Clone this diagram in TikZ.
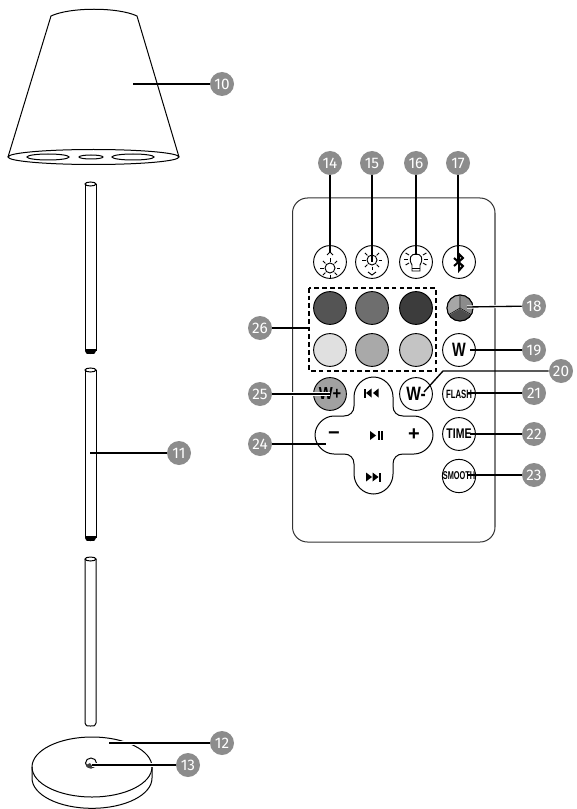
\documentclass[tikz,border=0pt]{standalone}
\usepackage{fontspec}
\setmainfont{Liberation Sans}
\newfontfamily\badgefont{Fira Sans}
\definecolor{badgegray}{RGB}{140,140,140}
\definecolor{edgegray}{RGB}{125,125,125}
\tikzset{
  badge/.style={circle, fill=badgegray, text=white, minimum size=18pt, inner sep=0pt, font=\badgefont\fontsize{11.5}{12}\selectfont},
  leader/.style={black, line width=1pt},
  halo/.style={preaction={draw=white, line width=2.4pt}},
  btn/.style={circle, draw=black, line width=0.7pt, fill=white, minimum size=24.6pt, inner sep=0pt, font=\bfseries},
  outl/.style={black, line width=0.75pt},
  icon/.style={black, line width=0.7pt},
  glyph/.style={inner sep=0pt, font=\bfseries\fontsize{15}{15}\selectfont}
}
\begin{document}
\begin{tikzpicture}[x=0.75pt, y=-0.75pt]
  \useasboundingbox (0,0) rectangle (576,809);
  % lamp shade
  \draw[outl, line join=round] (8,157) -- (51,16) .. controls (70,7) and (118,7) .. (137,16) -- (179,157);
  \draw[outl] (93.5,157) ellipse [x radius=85.5, y radius=7.5];
  \foreach \x/\r/\s in {48/21/3, 91/12/2, 133/21/3}
    \draw[outl] (\x,157) ellipse [x radius=\r, y radius=\s];
  % tubes
  \foreach \t/\b in {184/354, 370/541} {
    \fill[black] (85,\b-5) -- (96,\b-5) -- (96,\b-3) .. controls (96,\b) and (94,\b) .. (90.5,\b) .. controls (87,\b) and (85,\b) .. (85,\b-3) -- cycle;
    \draw[outl] (85,\t) -- (85,\b-3);
    \draw[outl] (96,\t) -- (96,\b-3);
    \draw[outl] (90.5,\t) ellipse [x radius=5.5, y radius=2];
  }
  \draw[outl] (85,559) -- (85,723) .. controls (85,726) and (87,726) .. (90.5,726) .. controls (94,726) and (96,726) .. (96,723) -- (96,559);
  \draw[outl] (90.5,559) ellipse [x radius=5.5, y radius=2];
  % base
  \draw[outl] (92,767) ellipse [x radius=60, y radius=30];
  \draw[outl] (32,767) -- (32,778) .. controls (32,795) and (59,808.3) .. (92,808.3) .. controls (125,808.3) and (152,795) .. (152,778) -- (152,767);
  \draw[outl] (91,763) ellipse [x radius=5.5, y radius=5];
  \fill[black!75] (86,765) .. controls (87,769) and (92,769) .. (93,767) -- (90,763) -- cycle;
  % remote
  \draw[black!80, line width=0.75pt, rounded corners=11.25pt] (292.5,198) rectangle (495,542);
  \draw[edgegray, line width=1pt] (495,213) -- (495,527);
  \draw[black, line width=1.1pt, dash pattern=on 3.5pt off 2.3pt] (309,288) rectangle (436,371);
  % colour buttons
  \foreach \n/\x/\y/\c in {a/330/308/84, b/372/308/110, c/416/308/60, d/330/350/224, e/372/350/169, f/416/350/196} {
    \definecolor{btnfill}{RGB}{\c,\c,\c}
    \node[btn, fill=btnfill] (col\n) at (\x,\y) {};
  }
  % top row
  \foreach \n/\x in {sun/330, dim/372, bulb/416, blue/459}
    \node[btn] (top\n) at (\x,262) {};
  \draw[icon] (330,268) circle [radius=5];
  \foreach \a in {0,45,...,315} {
    \draw[icon] (330,268) ++(\a:6.5) -- ++(\a:3.5);
    \draw[icon] (372,260) ++(\a:6.5) -- ++(\a:3.5);
  }
  \draw[icon] (327,255) -- (330,252) -- (333,255);
  \draw[icon] (372,260) circle [radius=5];
  \draw[icon] (368,272) -- (372,275) -- (376,272);
  \draw[icon] (412,265) .. controls (408,258) and (411,254) .. (416,254) .. controls (421,254) and (424,258) .. (420,265) -- (420,271) -- (412,271) -- cycle;
  \draw[icon] (412,268) -- (420,268);
  \foreach \a in {-30,0,30,150,180,210,270}
    \draw[icon] (416,259) ++(\a:8) -- ++(\a:4);
  \draw[black, line width=1.5pt, line join=miter] (454,258) -- (463,266) -- (459,270.5) -- (459,254) -- (463,258) -- (454,266);
  % tricolour button
  \node[btn, minimum size=19.5pt] (tri) at (460,308) {};
  \begin{scope}
    \clip (460,308) circle [radius=13];
    \fill[black!35] (460,308) -- (460,290) -- (440,290) -- (440,319.5) -- cycle;
    \fill[black!45] (460,308) -- (460,290) -- (480,290) -- (480,319.5) -- cycle;
    \fill[black!70] (460,308) -- (440,319.5) -- (440,325) -- (480,325) -- (480,319.5) -- cycle;
    \draw[white!70!black, line width=0.8pt] (460,295) -- (460,308) -- (449,314.5) (460,308) -- (471,314.5);
    \draw[black, line width=0.4pt] (460,295) -- (460,308) -- (449,314.5) (460,308) -- (471,314.5);
  \end{scope}
  \draw[outl] (460,308) circle [radius=13];
  % text buttons
  \node[btn, font=\bfseries\fontsize{14.5}{15}\selectfont] (whiteb) at (459,350) {\scalebox{0.75}[1]{W}};
  \node[btn, font=\bfseries\fontsize{9}{10}\selectfont] (flash) at (459,394) {\scalebox{0.65}[1]{FLASH}};
  \node[btn, font=\bfseries\fontsize{10.5}{11}\selectfont] (timeb) at (459,434) {\scalebox{0.75}[1]{TIME}};
  \node[btn, font=\bfseries\fontsize{8.5}{9}\selectfont] (smooth) at (459,476) {\scalebox{0.65}[1]{SMOOTH}};
  \node[btn, font=\bfseries\fontsize{14.5}{15}\selectfont] (wminus) at (416,394) {\scalebox{0.8}[1]{W-}};
  \node[btn, fill=black!37, font=\bfseries\fontsize{13}{14}\selectfont] (wplus) at (330,394) {\scalebox{0.85}[1]{W+}};
  % cross pad
  \draw[outl] (354,397) .. controls (354,386) and (363,377) .. (373.5,377) .. controls (384,377) and (393,386) .. (393,397)
    -- (393,406) .. controls (393,412) and (397,416) .. (403,416) -- (414,416)
    .. controls (424,416) and (433,425) .. (433,435) .. controls (433,445) and (424,454) .. (414,454) -- (403,454)
    .. controls (397,454) and (393,458) .. (393,464) -- (393,474)
    .. controls (393,485) and (384,494) .. (373.5,494) .. controls (363,494) and (354,485) .. (354,474) -- (354,464)
    .. controls (354,458) and (350,454) .. (344,454) -- (334,454)
    .. controls (324,454) and (315,445) .. (315,435) .. controls (315,425) and (324,416) .. (334,416) -- (344,416)
    .. controls (350,416) and (354,412) .. (354,406) -- cycle;
  \node[glyph] (minus) at (334,435.5) {−};
  \node[glyph] (plus) at (414,435) {+};
  \fill[black] (364,388.5) rectangle (365.5,397.5);
  \fill[black] (371.5,388.5) -- (371.5,397.5) -- (366,393) -- cycle;
  \fill[black] (378.5,388.5) -- (378.5,397.5) -- (373,393) -- cycle;
  \fill[black] (366,472.5) -- (366,481.5) -- (372,477) -- cycle;
  \fill[black] (372.5,472.5) -- (372.5,481.5) -- (378.5,477) -- cycle;
  \fill[black] (379,472.5) rectangle (380.5,481.5);
  \fill[black] (370,431) -- (370,440) -- (376,435.5) -- cycle;
  \fill[black] (378,431) rectangle (379.7,440);
  \fill[black] (381.3,431) rectangle (383,440);
  % badges
  \foreach \n/\x/\y in {10/222/84, 11/179/453, 12/222/743, 13/188/765, 14/330/163, 15/372/163, 16/416/163, 17/458/163,
      18/534/306, 19/534/350, 20/561/371, 21/534/393, 22/534/434, 23/534/475, 24/260/444, 25/260/394, 26/260/328}
    \node[badge] (b\n) at (\x,\y) {\n};
  % leaders
  \foreach \n/\x/\y in {10/133/84, 11/90/453, 14/330/253, 15/372/262, 16/416/255, 17/458/262,
      19/470/350, 21/468/393, 22/470/434, 23/468/475, 24/326/444, 26/309/328} {
    \coordinate (c\n) at (\x,\y);
    \draw[leader] (b\n) -- (c\n);
  }
  \foreach \n/\x/\y in {12/109/743, 13/92/765, 18/467/307, 25/330/394} {
    \coordinate (c\n) at (\x,\y);
    \draw[leader, halo] (b\n) -- (c\n);
  }
  \coordinate (c20) at (424,392);
  \coordinate (k20) at (443,371);
  \draw[leader] (b20) -- (k20) -- (c20);
\end{tikzpicture}
\end{document}
